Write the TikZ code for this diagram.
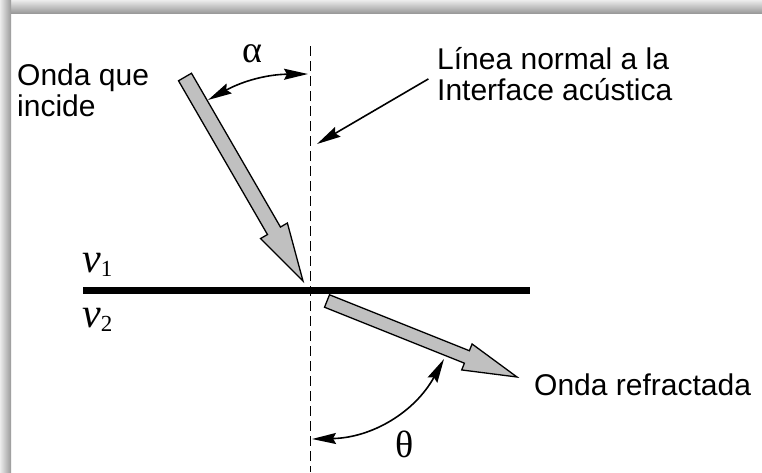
\documentclass[tikz,border=0pt]{standalone}
\usepackage{fontspec}
\setmainfont{Liberation Sans}
\newfontfamily\greekfont{Liberation Serif}
\usetikzlibrary{arrows.meta,calc}
\definecolor{wavegray}{HTML}{C0C0C0}
\definecolor{framegray}{HTML}{9A9A9A}
\tikzset{
  lbl/.style={font=\fontsize{30}{31}\selectfont, inner sep=0pt, align=left},
  sym/.style={font=\fontsize{38}{38}\selectfont\greekfont, inner sep=0pt},
  normalline/.style={line width=1.8pt, dash pattern=on 10pt off 5pt},
  interface/.style={line width=7pt},
  wave/.style={draw=black, fill=wavegray, line width=1.3pt, line join=miter},
  anglearc/.style={line width=1.6pt,
    {Stealth[length=24pt,width=11pt,inset=3pt]}-{Stealth[length=24pt,width=11pt,inset=3pt]}},
  pointer/.style={line width=1.6pt, -{Stealth[length=24pt,width=11pt,inset=3pt]}},
}

\begin{document}
\begin{tikzpicture}[x=1pt, y=-1pt]
  \useasboundingbox (0,0) rectangle (762,472);
  % shadow of the frame
  \shade[top color=gray!15, bottom color=framegray] (0,0) rectangle (762,13);
  \shade[left color=gray!15, right color=framegray] (0,0) rectangle (11,472);

  % normal and interface
  \coordinate (nTop) at (310.5,46);
  \coordinate (nBot) at (310.5,472);
  \draw[normalline] (nTop) -- (nBot);
  \coordinate (ifL) at (83,290.5);
  \coordinate (ifR) at (530,290.5);
  \draw[interface] (ifL) -- (ifR);

  % incident wave
  \coordinate (inTail) at (185,77);
  \coordinate (inTip) at (303,281);
  \coordinate (inBase) at ($(inTip)!58pt!(inTail)$);
  \draw[wave] ($(inTail)!7.5pt!90:(inTip)$) -- ($(inBase)!7.5pt!-90:(inTail)$)
    -- ($(inBase)!15.5pt!-90:(inTail)$) -- (inTip)
    -- ($(inBase)!15.5pt!90:(inTail)$) -- ($(inBase)!7.5pt!90:(inTail)$)
    -- ($(inTail)!7.5pt!-90:(inTip)$) -- cycle;

  % refracted wave
  \coordinate (rfTail) at (327,301);
  \coordinate (rfTip) at (517,377);
  \coordinate (rfBase) at ($(rfTip)!54pt!(rfTail)$);
  \draw[wave] ($(rfTail)!6.7pt!90:(rfTip)$) -- ($(rfBase)!6.7pt!-90:(rfTail)$)
    -- ($(rfBase)!14pt!-90:(rfTail)$) -- (rfTip)
    -- ($(rfBase)!14pt!90:(rfTail)$) -- ($(rfBase)!6.7pt!90:(rfTail)$)
    -- ($(rfTail)!6.7pt!-90:(rfTip)$) -- cycle;

  % labels
  \node[lbl, anchor=north west] (incTxt) at (17,64) {Onda que\\incide};
  \node[lbl, anchor=north west] (normTxt) at (437,47) {Línea normal a la\\Interface acústica};
  \node[lbl, anchor=base west] (refTxt) at (534,395) {Onda refractada};
  \node[sym, anchor=base west] (alphaTxt) at (242,62) {α};
  \node[sym, anchor=base west] (thetaTxt) at (395,457) {θ};
  \node[sym, anchor=base west] (vOne) at (82,272) {\fontsize{42}{42}\selectfont\textit{v}\raisebox{-4pt}{\fontsize{23}{23}\selectfont 1}};
  \node[sym, anchor=base west] (vTwo) at (82,327) {\fontsize{42}{42}\selectfont\textit{v}\raisebox{-4pt}{\fontsize{23}{23}\selectfont 2}};

  % angles
  \coordinate (aOn) at (208,100);
  \coordinate (aNorm) at (308,74);
  \draw[anglearc] (aOn) to[bend left=14] (aNorm);
  \coordinate (tNorm) at (312,439);
  \coordinate (tOn) at (444,359);
  \draw[anglearc] (tNorm) to[bend right=30] (tOn);

  % pointer to the normal
  \coordinate (nPtr) at (317,144);
  \draw[pointer, shorten <=10pt] (normTxt.west) -- (nPtr);
\end{tikzpicture}
\end{document}
